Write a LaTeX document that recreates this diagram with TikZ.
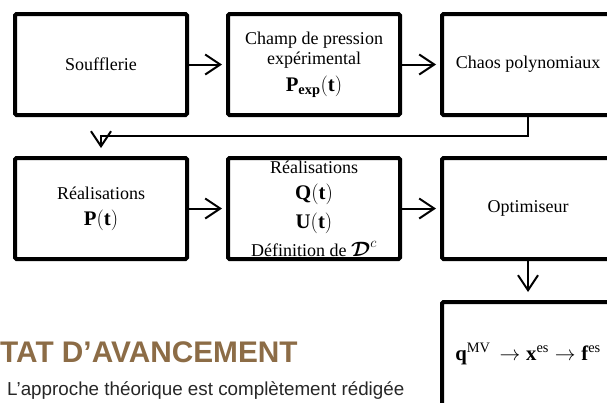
\documentclass[tikz,border=0pt]{standalone}
\usepackage{amsmath}
\usepackage{fontspec}
\setmainfont{Liberation Serif}
\newfontfamily\headfont{Liberation Sans}
\usetikzlibrary{positioning, arrows.meta}
\definecolor{avancement}{RGB}{140,108,70}
\newcommand{\grandmath}[1]{{\fontsize{20.74}{20}\selectfont$#1$}}

\begin{document}
\begin{tikzpicture}[
	x=1pt, y=-1pt,
	box/.style={draw, rectangle, rounded corners=1.5pt, line width=4pt, minimum width=172pt, minimum height=101pt, align=center, inner sep=0pt, outer sep=0pt, font=\fontsize{18}{20}\selectfont},
	arrow/.style={-{Straight Barb[length=15pt, width=20pt]}, line width=2pt},
	]
	\useasboundingbox (0,0) rectangle (607,402);

	\node[box] (souf) at (101,64.5) {Soufflerie};
	\node[box, right=41pt of souf] (champ) {Champ de pression\\expérimental\\[7pt]\grandmath{\mathbf{P}_{\mathbf{exp}}(\mathbf{t})}};
	\node[box, right=42pt of champ] (chaos) {Chaos polynomiaux};

	\node[box, below=43pt of souf] (realp) {Réalisations\\[6pt]\grandmath{\mathbf{P}(\mathbf{t})}};
	\node[box, right=41pt of realp] (realqu) {Réalisations\\[6pt]\grandmath{\mathbf{Q}(\mathbf{t})}\\[7pt]\grandmath{\mathbf{U}(\mathbf{t})}\\[7pt]Définition de \grandmath{\boldsymbol{\mathcal{D}}^{c}}};
	\node[box, right=42pt of realqu] (optim) {Optimiseur};
	\node[box, minimum height=104pt, below=43pt of optim] (sortie) {\grandmath{\mathbf{q}^{\mathrm{MV}}\,\rightarrow \mathbf{x}^{\mathrm{es}} \rightarrow \mathbf{f}^{\mathrm{es}}}};

	\draw[arrow, shorten >=6pt] (souf.east) -- (champ.west);
	\draw[arrow, shorten >=6pt] (champ.east) -- (chaos.west);
	\draw[arrow, shorten >=10pt] (chaos.south) -- ++(0,21) -| (realp.north);
	\draw[arrow, shorten >=6pt] (realp.east) -- (realqu.west);
	\draw[arrow, shorten >=6pt] (realqu.east) -- (optim.west);
	\draw[arrow, shorten >=10pt] (optim.south) -- (sortie.north);

	\node[font=\headfont\bfseries\fontsize{29.8}{32}\selectfont, text=avancement, anchor=base west, inner sep=0pt] (etat) at (0,362) {TAT D’AVANCEMENT};
	\node[font=\headfont\fontsize{18.8}{21}\selectfont, text=black!85, anchor=base west, inner sep=0pt] (approche) at (7,395) {L’approche théorique est complètement rédigée};

\end{tikzpicture}
\end{document}
